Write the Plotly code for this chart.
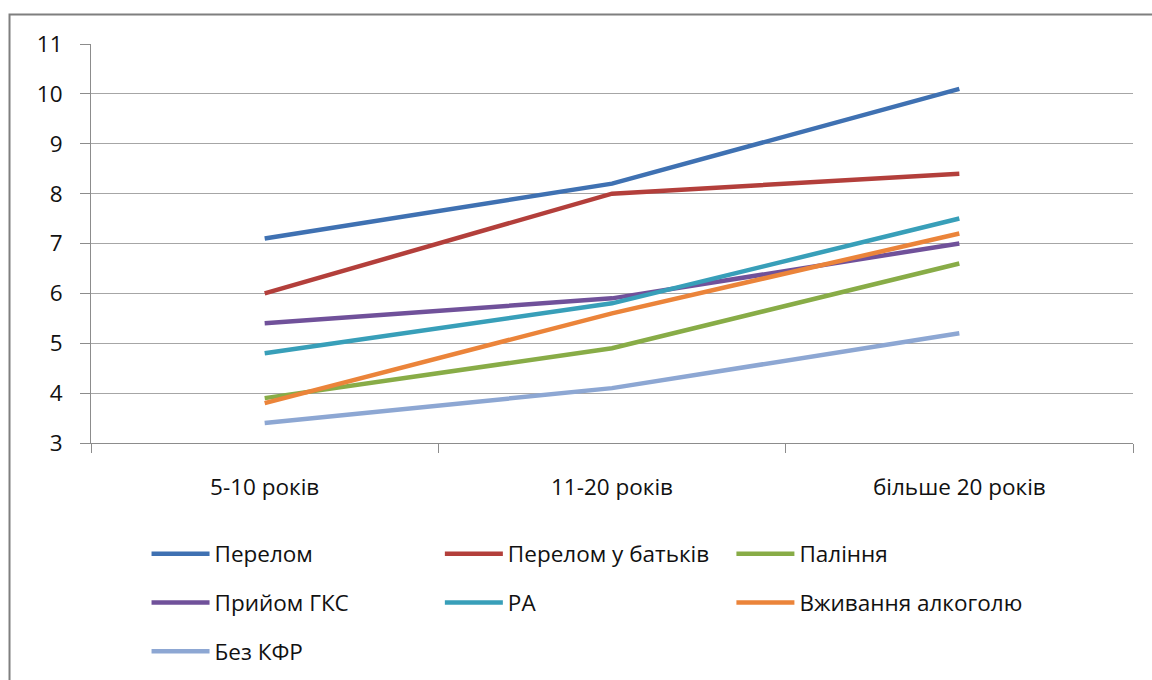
import plotly.graph_objects as go

# Age-group categories on the x axis
categories = ["5-10 років", "11-20 років", "більше 20 років"]

# Risk-factor series (values per age group)
perelom = [7.1, 8.2, 10.1]
perelom_batkiv = [6.0, 8.0, 8.4]
palinnia = [3.9, 4.9, 6.6]
gks = [5.4, 5.9, 7.0]
ra = [4.8, 5.8, 7.5]
alkohol = [3.8, 5.6, 7.2]
bez_kfr = [3.4, 4.1, 5.2]

y_ticks = [3, 4, 5, 6, 7, 8, 9, 10, 11]

series = [
    ("Перелом", perelom, "#3F71B2", "legend"),
    ("Перелом у батьків", perelom_batkiv, "#B33F3B", "legend2"),
    ("Паління", palinnia, "#88AC47", "legend3"),
    ("Прийом ГКС", gks, "#70519A", "legend"),
    ("РА", ra, "#389FB9", "legend2"),
    ("Вживання алкоголю", alkohol, "#EB843A", "legend3"),
    ("Без КФР", bez_kfr, "#8DA7D3", "legend"),
]

FONT = "Open Sans, sans-serif"
FSIZE = 22.5

fig = go.Figure()
for name, vals, color, leg in series:
    fig.add_trace(go.Scatter(
        x=categories, y=vals, name=name, mode="lines",
        line=dict(color=color, width=4.5),
        legend=leg, legendgroup=name,
    ))

legend_style = dict(
    orientation="v", yanchor="top", xanchor="left", yref="container",
    font=dict(family=FONT, size=FSIZE, color="#111111"),
    bgcolor="rgba(0,0,0,0)", tracegroupgap=16.5, itemwidth=58,
)

fig.update_layout(
    width=1152, height=680,
    margin=dict(l=91, r=19, t=44, b=237),
    paper_bgcolor="white", plot_bgcolor="white",
    font=dict(family=FONT, size=FSIZE, color="#111111"),
    showlegend=True,
    legend=dict(x=0.0533, y=0.2168, **legend_style),
    legend2=dict(x=0.3348, y=0.2168, **legend_style),
    legend3=dict(x=0.6146, y=0.2168, **legend_style),
    xaxis=dict(
        type="category", range=[-0.5, 2.5], automargin=False,
        showline=True, linecolor="#8c8c8c", linewidth=1,
        ticks="outside", tickson="boundaries", ticklen=9, tickcolor="#8c8c8c",
        showgrid=False, ticklabelstandoff=24,
        tickfont=dict(family=FONT, size=FSIZE, color="#111111"),
    ),
    yaxis=dict(
        range=[3, 11], tickvals=y_ticks, automargin=False,
        showline=True, linecolor="#8c8c8c", linewidth=1,
        ticks="outside", ticklen=10, tickcolor="#8c8c8c",
        showgrid=True, gridcolor="#a6a6a6", gridwidth=1,
        zeroline=False, ticklabelstandoff=13,
        tickfont=dict(family=FONT, size=FSIZE, color="#111111"),
    ),
    shapes=[dict(
        type="rect", xref="paper", yref="paper",
        x0=-0.0782, y0=-0.7, x1=1.1, y1=1.074,
        line=dict(color="#7f7f7f", width=2), layer="below",
    )],
)

fig.write_html("out.html")
